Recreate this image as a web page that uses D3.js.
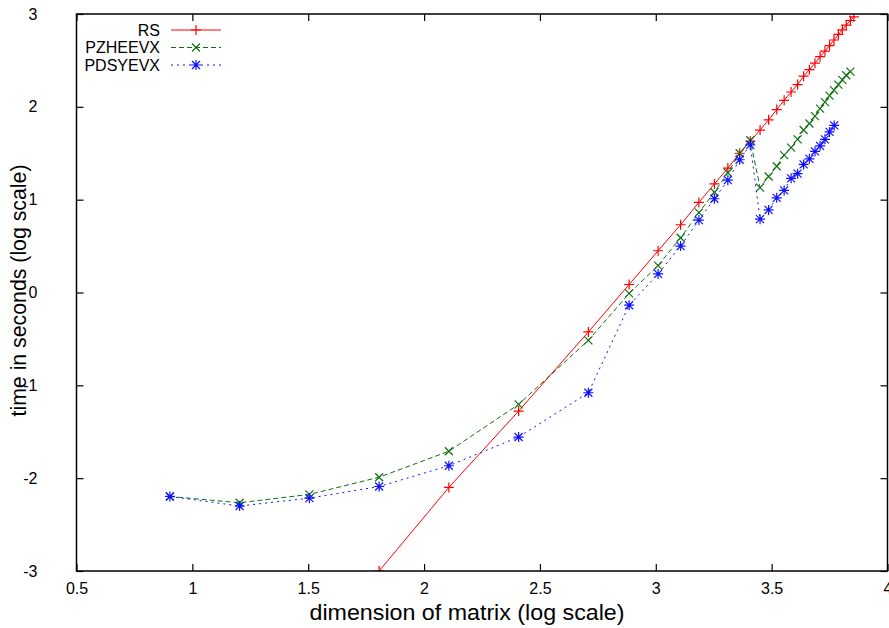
<!DOCTYPE html>
<html><head><meta charset="utf-8">
<script src="https://cdn.jsdelivr.net/npm/d3@7"></script>
<style>body{margin:0;background:#fff}svg{display:block}text{font-family:"Liberation Sans",Arial,sans-serif}</style>
</head><body><svg id="c" width="889" height="628"></svg>
<script>
// log10 of matrix dimension
const rsX = [1.806,2.107,2.408,2.709,2.885,3.010,3.107,3.186,3.253,3.311,3.362,3.408,3.450,3.487,3.522,3.554,3.584,3.612,3.638,3.663,3.687,3.709,3.730,3.750,3.769,3.788,3.805,3.822,3.840,3.855];
const rsY = [-3.00,-2.10,-1.277,-0.425,0.086,0.45,0.73,0.97,1.17,1.34,1.50,1.63,1.75,1.86,1.97,2.07,2.16,2.24,2.33,2.40,2.47,2.54,2.60,2.66,2.72,2.78,2.83,2.88,2.93,2.97];
const pzX = [0.903,1.204,1.505,1.806,2.107,2.408,2.709,2.885,3.010,3.107,3.186,3.253,3.311,3.362,3.408,3.450,3.487,3.522,3.554,3.584,3.612,3.638,3.663,3.687,3.709,3.730,3.750,3.769,3.788,3.805,3.822,3.840];
const pzY = [-2.197,-2.265,-2.175,-1.99,-1.71,-1.205,-0.515,-0.01,0.29,0.59,0.86,1.08,1.29,1.50,1.64,1.13,1.25,1.36,1.48,1.56,1.65,1.75,1.82,1.90,1.98,2.05,2.12,2.18,2.24,2.29,2.34,2.38];
const pdX = [0.903,1.204,1.505,1.806,2.107,2.408,2.709,2.885,3.010,3.107,3.186,3.253,3.311,3.362,3.408,3.450,3.487,3.522,3.554,3.584,3.612,3.638,3.663,3.687,3.709,3.730,3.750,3.770];
const pdY = [-2.197,-2.30,-2.215,-2.09,-1.866,-1.557,-1.08,-0.137,0.20,0.50,0.78,1.01,1.21,1.43,1.59,0.79,0.89,1.02,1.10,1.23,1.28,1.38,1.44,1.52,1.58,1.65,1.73,1.80];
const xTicks = [0.5,1,1.5,2,2.5,3,3.5,4];
const yTicks = [-3,-2,-1,0,1,2,3];
const seriesNames = ["RS","PZHEEVX","PDSYEVX"];

const svg = d3.select("#c");
const L=76.5, R=887.5, T=14, B=571;
const x = d3.scaleLinear().domain([0.5,4]).range([L,R]);
const y = d3.scaleLinear().domain([-3,3]).range([B,T]);

const series = [
  {name:seriesNames[0], xs:rsX, ys:rsY, color:"#ff0000", dash:null, mark:"plus"},
  {name:seriesNames[1], xs:pzX, ys:pzY, color:"#107010", dash:"5,3", mark:"cross"},
  {name:seriesNames[2], xs:pdX, ys:pdY, color:"#1010ff", dash:"2,4", mark:"star"}
];

const clip = svg.append("defs").append("clipPath").attr("id","pc");
clip.append("rect").attr("x",L).attr("y",T).attr("width",R-L).attr("height",B-T);

function marker(g, cx, cy, type, color){
  const s=5;
  let d="";
  if(type==="plus"||type==="star") d+=`M${cx-s},${cy}H${cx+s}M${cx},${cy-s}V${cy+s}`;
  if(type==="cross"||type==="star") d+=`M${cx-s*0.8},${cy-s*0.8}L${cx+s*0.8},${cy+s*0.8}M${cx-s*0.8},${cy+s*0.8}L${cx+s*0.8},${cy-s*0.8}`;
  g.append("path").attr("d",d).attr("stroke",color).attr("stroke-width",1.2).attr("fill","none");
}

const plot = svg.append("g").attr("clip-path","url(#pc)");
series.forEach(s=>{
  const pts = s.xs.map((v,i)=>[v,s.ys[i]]);
  const line = d3.line().x(d=>x(d[0])).y(d=>y(d[1]));
  plot.append("path").attr("d",line(pts)).attr("fill","none").attr("stroke",s.color)
    .attr("stroke-width",1).attr("stroke-dasharray",s.dash);
  pts.forEach(p=>marker(plot,x(p[0]),y(p[1]),s.mark,s.color));
});

// frame
svg.append("rect").attr("x",L).attr("y",T).attr("width",R-L).attr("height",B-T)
  .attr("fill","none").attr("stroke","#000").attr("stroke-width",1.5);

// axes (inward ticks, mirrored)
const tl=7;
const fmt = d=>String(d);
const xb = svg.append("g").attr("transform",`translate(0,${B})`)
  .call(d3.axisBottom(x).tickValues(xTicks).tickSize(-tl).tickPadding(tl+9).tickFormat(fmt));
const xt = svg.append("g").attr("transform",`translate(0,${T})`)
  .call(d3.axisTop(x).tickValues(xTicks).tickSize(-tl).tickFormat(""));
const yl = svg.append("g").attr("transform",`translate(${L},0)`)
  .call(d3.axisLeft(y).tickValues(yTicks).tickSize(-tl).tickPadding(tl+32).tickFormat(fmt));
const yr = svg.append("g").attr("transform",`translate(${R},0)`)
  .call(d3.axisRight(y).tickValues(yTicks).tickSize(-tl).tickFormat(""));
[xb,xt,yl,yr].forEach(g=>{
  g.select(".domain").remove();
  g.selectAll(".tick line").attr("stroke","#000").attr("stroke-width",1.2);
  g.selectAll(".tick text").attr("font-size",16).attr("fill","#000")
   .attr("font-family","'Liberation Sans',Arial,sans-serif");
});
xb.selectAll(".tick text").attr("dy","0.45em");

// titles
svg.append("text").attr("x",(L+R)/2-15).attr("y",620).attr("text-anchor","middle")
  .attr("font-size",22).attr("textLength",315).attr("lengthAdjust","spacingAndGlyphs")
  .text("dimension of matrix (log scale)");
svg.append("text").attr("transform",`translate(26,${(T+B)/2-2}) rotate(-90)`).attr("text-anchor","middle")
  .attr("font-size",22).attr("textLength",252).attr("lengthAdjust","spacingAndGlyphs")
  .text("time in seconds (log scale)");

// legend
series.forEach((s,i)=>{
  const ly = 30 + i*17.5;
  svg.append("text").attr("x",160).attr("y",ly).attr("dy","0.35em").attr("text-anchor","end")
    .attr("font-size",16).text(s.name);
  svg.append("line").attr("x1",171).attr("x2",221).attr("y1",ly).attr("y2",ly)
    .attr("stroke",s.color).attr("stroke-width",1).attr("stroke-dasharray",s.dash);
  marker(svg,196,ly,s.mark,s.color);
});
</script></body></html>
